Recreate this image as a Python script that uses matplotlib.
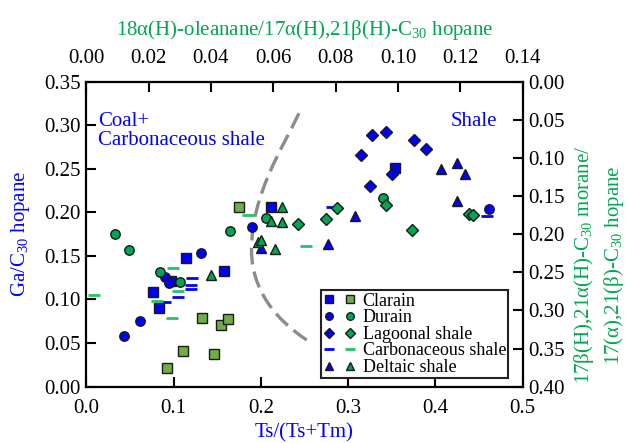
import matplotlib
matplotlib.use("Agg")
import matplotlib.pyplot as plt
from matplotlib.path import Path
from matplotlib.patches import PathPatch
from matplotlib.legend_handler import HandlerTuple
from matplotlib.ticker import FormatStrFormatter

plt.rcParams['font.family'] = ['Liberation Serif', 'DejaVu Serif']
plt.rcParams['mathtext.fontset'] = 'custom'
plt.rcParams['mathtext.rm'] = 'Liberation Serif'
plt.rcParams['mathtext.it'] = 'Liberation Serif:italic'

# ---- data: blue series (bottom x: Ts/(Ts+Tm), left y: Ga/C30 hopane) ----
blue_clarain_x = [0.0767, 0.0829, 0.0967, 0.1139, 0.1577, 0.2116, 0.3536]
blue_clarain_y = [0.1083, 0.0899, 0.1212, 0.1472, 0.1327, 0.2064, 0.2511]
blue_durain_x = [0.0436, 0.0619, 0.0905, 0.0951, 0.1310, 0.1898, 0.4609]
blue_durain_y = [0.0578, 0.0750, 0.1261, 0.1193, 0.1537, 0.1835, 0.2034]
blue_lagoonal_x = [0.3276, 0.3433, 0.3147, 0.3754, 0.3888, 0.3505, 0.3253]
blue_lagoonal_y = [0.2890, 0.2924, 0.2654, 0.2826, 0.2726, 0.2443, 0.2302]
blue_carb_x = [0.1207, 0.1195, 0.1195, 0.1054, 0.0905, 0.2811, 0.4586]
blue_carb_y = [0.1247, 0.1163, 0.1124, 0.1029, 0.0968, 0.2064, 0.1961]
blue_deltaic_x = [0.4060, 0.4243, 0.4338, 0.4243, 0.3078, 0.2772, 0.2001]
blue_deltaic_y = [0.2493, 0.2569, 0.2436, 0.2130, 0.1961, 0.1636, 0.1587]

# ---- data: green series (top x: oleanane ratio, right y: morane ratio) ----
green_clarain_x = [0.0491, 0.0370, 0.0431, 0.0454, 0.0309, 0.0411, 0.0260]
green_clarain_y = [0.1649, 0.3100, 0.3187, 0.3113, 0.3536, 0.3575, 0.3759]
green_durain_x = [0.0091, 0.0136, 0.0235, 0.0301, 0.0460, 0.0576, 0.0951]
green_durain_y = [0.2003, 0.2204, 0.2501, 0.2624, 0.1963, 0.1785, 0.1523]
green_lagoonal_x = [0.0680, 0.0769, 0.0803, 0.0961, 0.1045, 0.1228, 0.1239]
green_lagoonal_y = [0.1862, 0.1806, 0.1662, 0.1619, 0.1946, 0.1737, 0.1754]
green_carb_x = [0.0025, 0.0277, 0.0295, 0.0228, 0.0274, 0.0518, 0.0704]
green_carb_y = [0.2802, 0.2448, 0.2741, 0.2873, 0.3096, 0.1746, 0.2152]
green_deltaic_x = [0.0400, 0.0627, 0.0592, 0.0629, 0.0552, 0.0560, 0.0605]
green_deltaic_y = [0.2540, 0.1649, 0.1824, 0.1837, 0.2099, 0.2077, 0.2199]

legend_labels = ["Clarain", "Durain", "Lagoonal shale", "Carbonaceous shale", "Deltaic shale"]

bottom_ticks = [0.0, 0.1, 0.2, 0.3, 0.4, 0.5]
left_ticks = [0.00, 0.05, 0.10, 0.15, 0.20, 0.25, 0.30, 0.35]
top_ticks = [0.00, 0.02, 0.04, 0.06, 0.08, 0.10, 0.12, 0.14]
right_ticks = [0.00, 0.05, 0.10, 0.15, 0.20, 0.25, 0.30, 0.35, 0.40]

# boundary curve (annotation) control points in bottom/left data coordinates
curve_x = [0.2436, 0.2230, 0.1893, 0.1893, 0.1893, 0.2173, 0.2525]
curve_y = [0.3135, 0.2703, 0.2198, 0.1568, 0.1109, 0.0765, 0.0536]

BLUE = '#0000FF'
GREEN = '#00A650'
OLIVE = '#70AD47'
DASHGREEN = '#22C36A'
EDGE = '#1a1a1a'

fig = plt.figure(figsize=(6.27, 4.43), dpi=100)
pos = [0.1376, 0.1271, 0.8338 - 0.1376, 0.816 - 0.1271]
ax = fig.add_axes(pos)
ax2 = fig.add_axes(pos, frameon=False)

ms = 6.8
mew = 1.0
kw = dict(linestyle='none', markeredgecolor=EDGE, markeredgewidth=mew, markersize=ms)

# curve
verts = list(zip(curve_x, curve_y))
codes = [Path.MOVETO] + [Path.CURVE4] * 6
patch = PathPatch(Path(verts, codes), fill=False, edgecolor='#8c8c8c', lw=2.4,
                  linestyle=(0, (5, 2.2)), zorder=1)
ax.add_patch(patch)

hb = []
hb.append(ax.plot(blue_clarain_x, blue_clarain_y, marker='s', color=BLUE, **kw)[0])
hb.append(ax.plot(blue_durain_x, blue_durain_y, marker='o', color=BLUE, **kw)[0])
hb.append(ax.plot(blue_lagoonal_x, blue_lagoonal_y, marker='D', color=BLUE,
                  linestyle='none', markeredgecolor=EDGE, markeredgewidth=mew, markersize=ms * 0.85)[0])
hb.append(ax.plot(blue_carb_x, blue_carb_y, marker='_', color=BLUE, linestyle='none',
                  markersize=9, markeredgewidth=2.0)[0])
hb.append(ax.plot(blue_deltaic_x, blue_deltaic_y, marker='^', color=BLUE, **kw)[0])

hg = []
hg.append(ax2.plot(green_clarain_x, green_clarain_y, marker='s', color=OLIVE, **kw)[0])
hg.append(ax2.plot(green_durain_x, green_durain_y, marker='o', color=GREEN, **kw)[0])
hg.append(ax2.plot(green_lagoonal_x, green_lagoonal_y, marker='D', color=GREEN,
                   linestyle='none', markeredgecolor=EDGE, markeredgewidth=mew, markersize=ms * 0.85)[0])
hg.append(ax2.plot(green_carb_x, green_carb_y, marker='_', color=DASHGREEN, linestyle='none',
                   markersize=9, markeredgewidth=2.0)[0])
hg.append(ax2.plot(green_deltaic_x, green_deltaic_y, marker='^', color=GREEN, **kw)[0])

# axes setup
ax.set_xlim(0, 0.5)
ax.set_ylim(0, 0.35)
ax.set_xticks(bottom_ticks)
ax.set_yticks(left_ticks)
ax.xaxis.set_major_formatter(FormatStrFormatter('%.1f'))
ax.yaxis.set_major_formatter(FormatStrFormatter('%.2f'))
ax.tick_params(direction='in', length=7, width=1.5, labelsize=15, top=False, right=False)
ax.tick_params(axis='x', pad=9)
ax.tick_params(axis='y', pad=4)
for s in ax.spines.values():
    s.set_linewidth(1.6)

ax2.set_xlim(0, 0.14)
ax2.set_ylim(0.40, 0.0)
ax2.set_xticks(top_ticks)
ax2.set_yticks(right_ticks)
ax2.xaxis.tick_top()
ax2.yaxis.tick_right()
ax2.xaxis.set_major_formatter(FormatStrFormatter('%.2f'))
ax2.yaxis.set_major_formatter(FormatStrFormatter('%.2f'))
ax2.tick_params(direction='in', length=7, width=1.5, labelsize=15)
ax2.tick_params(axis='x', pad=10)
ax2.tick_params(axis='y', pad=4)
ax2.patch.set_alpha(0)

# labels
fig.text(0.033, 1 - 234 / 443, 'Ga/C$_{30}$ hopane', color=BLUE, fontsize=15,
         rotation=90, ha='center', va='center')
fig.text(304.5 / 627, 1 - 433 / 443, 'Ts/(Ts+Tm)', color=BLUE, fontsize=15,
         ha='center', va='center')
fig.text(304.5 / 627, 1 - 30 / 443, '18α(H)-oleanane/17α(H),21β(H)-C$_{30}$ hopane',
         color=GREEN, fontsize=15, ha='center', va='center')
fig.text(599 / 627, 1 - 265 / 443,
         '17β(H),21α(H)-C$_{30}$ morane/\n17(α),21(β)-C$_{30}$ hopane',
         color=GREEN, fontsize=15, rotation=90, ha='center', va='center',
         multialignment='center', linespacing=1.3)

ax.text(0.027, 0.9, 'Coal+\nCarbonaceous shale', transform=ax.transAxes, color=BLUE,
        fontsize=15, ha='left', va='top', linespacing=1.0)
ax.text(0.941, 0.868, 'Shale', transform=ax.transAxes, color=BLUE,
        fontsize=15, ha='right', va='center')

handles = [(b, g) for b, g in zip(hb, hg)]
leg = ax2.legend(handles, legend_labels, handler_map={tuple: HandlerTuple(ndivide=None, pad=0.5)},
                 loc='lower right', bbox_to_anchor=(0.967, 0.0275), borderaxespad=0,
                 fontsize=13, labelspacing=-0.02, handlelength=1.8, handletextpad=0.4,
                 borderpad=0.12, markerscale=0.8, fancybox=False, framealpha=1,
                 edgecolor='#222222')
leg.get_frame().set_linewidth(1.5)

fig.savefig('out.png', dpi=100)
